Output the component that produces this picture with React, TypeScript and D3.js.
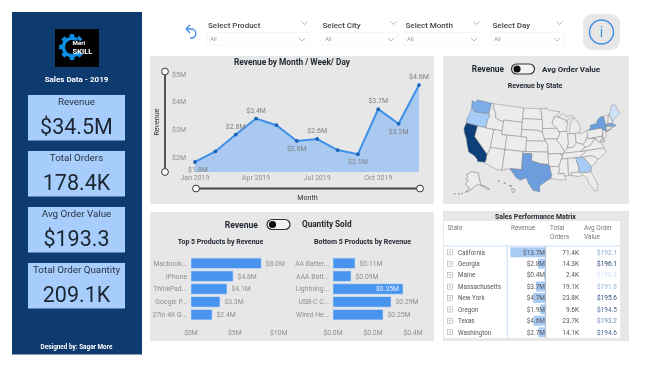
import React from "react";
import * as d3 from "d3";

const FONT = "Roboto, 'Noto Sans', sans-serif";
const BLUE = "#3f8fe8";
const DARK = "#222a33";
const GREY = "#8f8f8f";

const kpiTitles = ["Revenue", "Total Orders", "Avg Order Value", "Total Order Quantity"];
const kpiValues = ["$34.5M", "178.4K", "$193.3", "209.1K"];

const slicerTitles = ["Select Product", "Select City", "Select Month", "Select Day"];

const months = ["Jan", "Feb", "Mar", "Apr", "May", "Jun", "Jul", "Aug", "Sep", "Oct", "Nov", "Dec"];
const monthRevenue = [1.82, 2.2, 2.81, 3.39, 3.15, 2.58, 2.65, 2.25, 2.1, 3.73, 3.2, 4.6];
const monthLabels = ["$1.8M", "", "$2.8M", "$3.4M", "", "$2.6M", "$2.6M", "", "$2.1M", "$3.7M", "$3.2M", "$4.6M"];
const labelBelow = [true, false, false, false, false, true, false, false, true, false, true, false];
const revenueTicks = [2, 3, 4, 5];
const monthTicks = ["Jan", "Apr", "Jul", "Oct"];

const topProducts = ["Macbook...", "iPhone", "ThinkPad...", "Google P...", "27in 4K G..."];
const topRevenue = [8.0, 4.8, 4.1, 3.3, 2.4];
const bottomProducts = ["AA Batter...", "AAA Batt...", "Lightning...", "USB-C C...", "Wired He..."];
const bottomRevenue = [0.11, 0.09, 0.35, 0.29, 0.25];

const matrixStates = ["California", "Georgia", "Maine", "Massachusetts", "New York", "Oregon", "Texas", "Washington"];
const matrixRevenue = [13.7, 2.8, 0.4, 3.7, 4.7, 1.9, 4.6, 2.7];
const matrixOrders = [71.4, 14.3, 2.4, 19.1, 23.8, 9.6, 23.7, 14.1];
const matrixAvg = [192.1, 196.1, 190.3, 191.8, 195.6, 194.5, 193.2, 194.6];
const mapShade = [1, 0.3, 0.12, 0.55, 0.6, 0.3, 0.6, 0.5];

const stateCodes = ["CA", "GA", "ME", "MA", "NY", "OR", "TX", "WA"];

type Ring = [number, number][];
const usStates: Record<string, Ring[]> = {
  WA: [[[-124.7,48.4],[-123.2,48.2],[-122.8,49],[-117,49],[-117,46],[-119,45.9],[-121.2,45.65],[-122.3,45.55],[-123.4,46.2],[-124,46.3]]],
  OR: [[[-124,46.3],[-123.4,46.2],[-122.3,45.55],[-121.2,45.65],[-119,45.9],[-117,46],[-116.5,45.5],[-117,44.3],[-117,42],[-120,42],[-124.2,42],[-124.5,43],[-124.1,44.5]]],
  CA: [[[-124.2,42],[-120,42],[-120,39],[-114.6,35],[-114.5,33.5],[-114.7,32.7],[-117.1,32.5],[-117.3,33],[-118.4,33.8],[-119.2,34.1],[-120.6,34.5],[-121.9,36.6],[-122.5,37.8],[-123.8,39.3],[-124.4,40.4]]],
  NV: [[[-120,42],[-114,42],[-114,36.2],[-114.6,35],[-120,39]]],
  ID: [[[-117,49],[-116,49],[-116,48],[-114.5,46.6],[-114.4,45.5],[-113.5,45],[-111.05,44.5],[-111.05,42],[-117,42],[-117,44.3],[-116.5,45.5],[-117,46]]],
  MT: [[[-116,49],[-104.05,49],[-104.05,45],[-111.05,45],[-111.05,44.5],[-113.5,45],[-114.4,45.5],[-114.5,46.6],[-116,48]]],
  WY: [[[-111.05,45],[-104.05,45],[-104.05,41],[-111.05,41]]],
  UT: [[[-114,42],[-111.05,42],[-111.05,41],[-109.05,41],[-109.05,37],[-114,37]]],
  AZ: [[[-114,37],[-109.05,37],[-109.05,31.3],[-111,31.3],[-114.8,32.5],[-114.7,32.7],[-114.5,33.5],[-114.6,35],[-114,36.2]]],
  CO: [[[-109.05,41],[-102.05,41],[-102.05,37],[-109.05,37]]],
  NM: [[[-109.05,37],[-103,37],[-103,32],[-106.6,32],[-106.5,31.8],[-108.2,31.8],[-108.2,31.3],[-109.05,31.3]]],
  ND: [[[-104.05,49],[-97.2,49],[-96.6,46],[-104.05,46]]],
  SD: [[[-104.05,46],[-96.6,46],[-96.45,43.5],[-96.5,42.5],[-98.5,43],[-104.05,43]]],
  NE: [[[-104.05,43],[-98.5,43],[-96.5,42.5],[-95.75,40.6],[-95.3,40],[-102.05,40],[-102.05,41],[-104.05,41]]],
  KS: [[[-102.05,40],[-95.3,40],[-94.6,39.1],[-94.6,37],[-102.05,37]]],
  OK: [[[-103,37],[-94.6,37],[-94.6,36.5],[-94.45,33.6],[-97,33.8],[-100,34.55],[-100,36.5],[-103,36.5]]],
  TX: [[[-103,36.5],[-100,36.5],[-100,34.55],[-97,33.8],[-94.45,33.6],[-94.05,33],[-93.8,31.5],[-93.5,31],[-93.85,29.7],[-95,29.2],[-97.2,27.7],[-97.2,26],[-99.2,26.4],[-100.5,28.2],[-101.4,29.8],[-103.1,29],[-104.5,29.7],[-106.5,31.8],[-106.6,32],[-103,32]]],
  MN: [[[-97.2,49],[-95.15,49],[-95.15,49.4],[-94.6,48.7],[-92,48.3],[-89.6,48],[-92,46.7],[-92.3,46.1],[-92.8,45.5],[-92.8,44.7],[-91.2,43.5],[-96.45,43.5],[-96.6,46]]],
  IA: [[[-96.45,43.5],[-91.2,43.5],[-90.2,42],[-91.1,40.7],[-91.7,40.6],[-95.75,40.6],[-96.5,42.5]]],
  MO: [[[-95.75,40.6],[-91.7,40.6],[-91.5,40.2],[-90.2,38.8],[-89.2,37],[-89.5,36.5],[-89.7,36],[-90.4,36],[-90.2,36.5],[-94.6,36.5],[-94.6,39.1],[-95.3,40]]],
  AR: [[[-94.6,36.5],[-90.2,36.5],[-90.4,36],[-89.7,36],[-91.2,33],[-94.05,33],[-94.45,33.6]]],
  LA: [[[-94.05,33],[-91.2,33],[-91,32],[-91.6,31],[-89.7,31],[-89.6,30.2],[-89.2,29.2],[-91,29.2],[-93.85,29.7],[-93.5,31],[-93.8,31.5]]],
  WI: [[[-92,46.7],[-90.5,46.6],[-88,45.8],[-87.6,45.1],[-87,45.2],[-87.8,43],[-87.8,42.5],[-90.65,42.5],[-91.2,43.5],[-92.8,44.7],[-92.8,45.5],[-92.3,46.1]]],
  IL: [[[-90.65,42.5],[-87.8,42.5],[-87.5,41.7],[-87.5,39.3],[-88,37.8],[-89.2,37],[-90.2,38.8],[-91.5,40.2],[-91.1,40.7],[-90.2,42]]],
  IN: [[[-87.5,41.7],[-86.8,41.76],[-84.8,41.7],[-84.8,39.1],[-86,38],[-88,37.8],[-87.5,39.3]]],
  MI: [[[-86.8,41.76],[-84.8,41.7],[-83.4,41.7],[-82.5,43],[-82.9,44],[-83.4,45],[-84.7,45.8],[-86,44.8],[-86.5,43.5]],[[-90.5,46.6],[-88.5,47.4],[-87.5,46.5],[-85,46.7],[-84.2,46],[-85.5,46],[-87,45.7],[-87.6,45.1],[-88,45.8]]],
  OH: [[[-84.8,41.7],[-83.4,41.7],[-82.5,41.4],[-80.52,42],[-80.52,40.6],[-81.7,39],[-82.6,38.4],[-84.8,39.1]]],
  KY: [[[-89.5,36.5],[-89.2,37],[-88,37.8],[-86,38],[-84.8,39.1],[-82.6,38.4],[-82,37.5],[-83.7,36.6]]],
  TN: [[[-89.5,36.5],[-83.7,36.6],[-81.7,36.6],[-84.3,35],[-90.3,35],[-89.7,36]]],
  MS: [[[-90.3,35],[-88.2,35],[-88.4,30.3],[-89.6,30.2],[-89.7,31],[-91.6,31],[-91,32],[-91.2,33]]],
  AL: [[[-88.2,35],[-85.6,35],[-85,32.3],[-85,31],[-87.6,31],[-87.5,30.3],[-88.4,30.3]]],
  GA: [[[-85.6,35],[-83.1,35],[-81,32.1],[-81.4,30.7],[-82.2,30.6],[-84.9,30.7],[-85,31],[-85,32.3]]],
  FL: [[[-87.6,31],[-85,31],[-84.9,30.7],[-82.2,30.6],[-81.4,30.7],[-80.5,28.3],[-80,26.8],[-80.4,25.2],[-81.2,25.2],[-82.7,27.8],[-82.8,29],[-84,30.1],[-85.3,29.7],[-87.5,30.3]]],
  SC: [[[-83.1,35],[-81,35.1],[-79.7,34.8],[-78.55,33.85],[-79.9,32.6],[-81,32.1]]],
  NC: [[[-84.3,35],[-81.7,36.6],[-75.9,36.55],[-75.5,35.3],[-77.9,33.9],[-78.55,33.85],[-79.7,34.8],[-81,35.1],[-83.1,35]]],
  VA: [[[-83.7,36.6],[-75.9,36.55],[-76.3,37.9],[-77.2,38.4],[-77.8,39.2],[-78.4,39.4],[-80,38],[-82,37.5]]],
  WV: [[[-82,37.5],[-80,38],[-78.4,39.4],[-77.8,39.2],[-78.4,39.7],[-79.5,39.7],[-80.52,39.7],[-80.52,40.6],[-81.7,39],[-82.6,38.4]]],
  PA: [[[-80.52,42],[-79.76,42.25],[-79.76,42],[-75.35,42],[-74.7,41.35],[-75.1,40.9],[-75.4,39.8],[-80.52,39.7]]],
  NY: [[[-79.76,42],[-79,42.7],[-79,43.3],[-76.5,43.5],[-76.2,44.2],[-74.7,45],[-73.35,45],[-73.4,43.6],[-73.3,42.75],[-73.5,42.05],[-73.65,41],[-74,41],[-74.7,41.35],[-75.35,42]],[[-74,40.6],[-72,41.1],[-73.7,40.9]]],
  NJ: [[[-74.7,41.35],[-74,41],[-74.2,40.5],[-74,39.8],[-74.9,38.95],[-75.5,39.5],[-75.1,40.2],[-75.1,40.9]]],
  DE: [[[-75.4,39.8],[-75.75,39.7],[-75.7,38.45],[-75.05,38.45],[-75.5,39.4]]],
  MD: [[[-79.5,39.7],[-75.75,39.7],[-75.7,38.45],[-75.05,38.45],[-75.3,38],[-76,38],[-76.4,39],[-76.3,38.2],[-77.2,38.4],[-77.8,39.2],[-78.4,39.7]]],
  CT: [[[-73.5,42.05],[-71.8,42],[-71.85,41.3],[-73.65,41]]],
  RI: [[[-71.8,42],[-71.4,42],[-71.2,41.5],[-71.85,41.3]]],
  MA: [[[-73.5,42.05],[-73.3,42.75],[-71.3,42.7],[-70.8,42.8],[-70.7,42.2],[-70,42],[-70,41.7],[-71.2,41.5],[-71.4,42],[-71.8,42]]],
  VT: [[[-73.35,45],[-71.5,45],[-72.4,43.2],[-72.5,42.75],[-73.3,42.75],[-73.4,43.6]]],
  NH: [[[-71.5,45],[-71.1,45.3],[-70.7,43.1],[-70.8,42.8],[-71.3,42.7],[-72.5,42.75],[-72.4,43.2]]],
  ME: [[[-71.1,45.3],[-70.3,45.9],[-70,46.7],[-69.2,47.45],[-68.3,47.35],[-67.8,47.05],[-67.8,45.7],[-67,44.8],[-69,44],[-70.7,43.1]]],
  AK: [[[-156,71],[-141,69.6],[-141,60.2],[-135,58.5],[-130.5,55.3],[-133,55.5],[-136,57.5],[-140,59.7],[-146,60.8],[-151,59.5],[-154,58],[-158,56.5],[-163.5,54.6],[-158,58.5],[-162,59.5],[-165,61.5],[-161,64],[-166,64.5],[-163,66.5],[-166,68.5]],[[-168,53.4],[-166.5,53.9],[-167,53.4]],[[-172,52.6],[-170,52.9],[-171,52.4]],[[-176.5,51.9],[-175,52.1],[-175.5,51.7]]],
  HI: [[[-156,20.2],[-155,19.8],[-155.6,19],[-156,19.6]],[[-156.7,21],[-156,20.8],[-156.4,20.6]],[[-158.2,21.5],[-157.7,21.4],[-158,21.7]],[[-159.8,22.1],[-159.3,22.1],[-159.5,21.9]]],
};

const lower48 = d3.geoAlbers().scale(211).translate([538, 145]);
const stretchX = d3.scaleLinear().domain([459, 611]).range([461, 617]);
const stretchY = d3.scaleLinear().domain([97, 192]).range([99, 192]);
const alaska = d3.geoConicEqualArea().rotate([154, 0]).center([-2, 58.5]).parallels([55, 65]).scale(75).translate([471, 188]);
const hawaii = d3.geoConicEqualArea().rotate([157, 0]).center([-3, 19.9]).parallels([8, 18]).scale(225).translate([497, 189.5]);
const ringLine = d3.line().curve(d3.curveLinearClosed);
const statePath = (code: string, rings: Ring[]) => {
  const proj = (p: [number, number]) => {
    if (code === "AK") return alaska(p) as [number, number];
    if (code === "HI") return hawaii(p) as [number, number];
    const q = lower48(p) as [number, number];
    return [stretchX(q[0]), stretchY(q[1])] as [number, number];
  };
  return rings.map((r) => ringLine(r.map(proj))).join("");
};

const mapColor = d3
  .scaleLinear<string>()
  .domain([0.12, 0.3, 0.5, 0.6, 1])
  .range(["#cfe3fb", "#a6cbf7", "#7eace8", "#6c9edd", "#0f3f78"]);

function Chevron({ x, y, w = 6, color = "#9a9a9a" }: { x: number; y: number; w?: number; color?: string }) {
  return <path d={`M${x - w / 2},${y - w / 4}L${x},${y + w / 4}L${x + w / 2},${y - w / 4}`} fill="none" stroke={color} strokeWidth={0.7} />;
}

function Toggle({ cx, cy }: { cx: number; cy: number }) {
  return (
    <g>
      <rect x={cx - 11.5} y={cy - 5} width={23} height={10} rx={5} fill="#f3f3f3" stroke="#333" strokeWidth={1.2} />
      <circle cx={cx - 6} cy={cy} r={3.6} fill="#111" />
    </g>
  );
}

function Logo() {
  const ro = 10.5, ri = 7;
  const ring = d3.arc()({ innerRadius: ri, outerRadius: ro, startAngle: (125 * Math.PI) / 180, endAngle: (395 * Math.PI) / 180 } as any) as string;
  return (
    <g>
      <rect x={55} y={29} width={44} height={38} fill="#000" />
      <g transform="translate(72,47)" fill="#0e8fe6">
        <path d={ring} />
        {[0, 42, -45, -90, -135, 180, 135].map((a) => (
          <rect key={a} x={-2.3} y={-ro - 2.4} width={4.6} height={3.4} transform={`rotate(${a})`} />
        ))}
      </g>
      <text x={72.5} y={45} fontSize={6.2} fontWeight={700} fill="#fff" fontFamily={FONT}>Meri</text>
      <text x={72.5} y={53.5} fontSize={7.6} fontWeight={700} fill="#fff" fontFamily={FONT}>SKILL</text>
    </g>
  );
}

function LineChart() {
  const x = d3.scalePoint<string>().domain(months).range([195, 419]);
  const y = d3.scaleLinear().domain([5, 2]).range([74, 157]);
  const base = 172;
  const line = d3.line<number>().x((_, i) => x(months[i])!).y((d) => y(d));
  const area = d3.area<number>().x((_, i) => x(months[i])!).y0(base).y1((d) => y(d));
  return (
    <g fontFamily={FONT}>
      <rect x={150} y={56} width={284} height={148} fill="#e7e7e7" />
      <text x={292} y={64.5} textAnchor="middle" fontSize={8.3} fontWeight={700} fill={DARK}>Revenue by Month / Week/ Day</text>
      {revenueTicks.map((t) => (
        <text key={t} x={186} y={y(t) + 2.5} textAnchor="end" fontSize={7} fill={GREY}>{`$${t}M`}</text>
      ))}
      {monthTicks.map((m) => (
        <text key={m} x={x(m)!} y={180} textAnchor="middle" fontSize={7} fill={GREY}>{`${m} 2019`}</text>
      ))}
      <path d={area(monthRevenue)!} fill="#a9c9f1" />
      <path d={line(monthRevenue)!} fill="none" stroke={BLUE} strokeWidth={2} />
      {monthRevenue.map((v, i) => (
        <circle key={i} cx={x(months[i])!} cy={y(v)} r={1.9} fill="#1a63b8" />
      ))}
      {monthLabels.map((l, i) =>
        l ? (
          <text key={i} x={x(months[i])! + (i === 0 ? 3 : 0)} y={y(monthRevenue[i]) + (labelBelow[i] ? 10 : -6)} textAnchor="middle" fontSize={7} fill="#7f7f7f">{l}</text>
        ) : null
      )}
      <line x1={165} x2={165} y1={71} y2={172} stroke="#444" strokeWidth={1.8} />
      <circle cx={165} cy={71.5} r={3.4} fill="#fff" stroke="#333" strokeWidth={1} />
      <circle cx={165} cy={172} r={3.4} fill="#fff" stroke="#333" strokeWidth={1} />
      <line x1={196} x2={420} y1={188.5} y2={188.5} stroke="#444" strokeWidth={1.8} />
      <circle cx={196} cy={188.5} r={3.4} fill="#fff" stroke="#333" strokeWidth={1} />
      <circle cx={420} cy={188.5} r={3.4} fill="#fff" stroke="#333" strokeWidth={1} />
      <text transform="translate(158.5,122) rotate(-90)" textAnchor="middle" fontSize={7.2} fill="#333">Revenue</text>
      <text x={307.5} y={200} textAnchor="middle" fontSize={7.2} fill="#333">Month</text>
    </g>
  );
}

function MapPanel() {
  const shadeByCode = new Map(stateCodes.map((c, i) => [c, mapShade[i]]));
  return (
    <g fontFamily={FONT}>
      <rect x={443} y={56} width={186} height={148} fill="#e7e7e7" />
      <text x={504} y={72} textAnchor="end" fontSize={8.3} fontWeight={700} fill={DARK}>Revenue</text>
      <Toggle cx={523} cy={69} />
      <text x={542} y={72} fontSize={8} fontWeight={700} fill={DARK}>Avg Order Value</text>
      <text x={535} y={87.5} textAnchor="middle" fontSize={7} fontWeight={700} fill={DARK}>Revenue by State</text>
      {Object.entries(usStates).map(([code, rings]) => (
        <path
          key={code}
          d={statePath(code, rings)}
          fill={shadeByCode.has(code) ? mapColor(shadeByCode.get(code)!) : "#ececec"}
          stroke={code === "AK" || code === "HI" ? "#555" : "#7d7d7d"}
          strokeWidth={0.45}
        />
      ))}
    </g>
  );
}

function BarPanel({ title, cats, vals, x0, x1, dMax, ticks, fmt, tickFmt, labelRight, tcx }: any) {
  const x = d3.scaleLinear().domain([0, dMax]).range([x0, x1]);
  const y = d3.scaleBand<string>().domain(cats).range([255.5, 322.5]).padding(0.2);
  return (
    <g>
      <text x={tcx} y={244} textAnchor="middle" fontSize={7} fontWeight={700} fill={DARK}>{title}</text>
      {cats.map((c: string, i: number) => {
        const inside = x(vals[i]) > x1 - 15;
        return (
          <g key={c}>
            <text x={labelRight} y={y(c)! + y.bandwidth() / 2 + 2.4} textAnchor="end" fontSize={6.8} fill={GREY}>{c}</text>
            <rect x={x0} y={y(c)!} width={x(vals[i]) - x0} height={y.bandwidth()} fill="#4a94ef" stroke="#c4dcf8" strokeWidth={0.6} />
            <text x={inside ? x(vals[i]) - 4 : x(vals[i]) + 4.5} y={y(c)! + y.bandwidth() / 2 + 2.4} textAnchor={inside ? "end" : "start"} fontSize={6.8} fill={inside ? "#e6f0fd" : GREY}>{fmt(vals[i])}</text>
          </g>
        );
      })}
      {ticks.map((t: number) => (
        <text key={t} x={x(t)} y={334.5} textAnchor="middle" fontSize={6.8} fill={GREY}>{tickFmt(t)}</text>
      ))}
    </g>
  );
}

function Matrix() {
  const rowY = d3.scalePoint<string>().domain(matrixStates).range([252.3, 332.2]);
  const barW = d3.scaleLinear().domain([0, 13.7]).range([0, 35]);
  const avgColor = d3.scaleLinear<string>().domain([190.3, 192, 196.1]).range(["#d5e1f5", "#8ea9d4", "#1d3f70"]);
  return (
    <g fontFamily={FONT}>
      <rect x={443} y={211} width={186} height={130} fill="#e7e7e7" />
      <text x={535.5} y={218.5} textAnchor="middle" fontSize={6.9} fontWeight={700} fill={DARK}>Sales Performance Matrix</text>
      <rect x={444} y={221} width={176} height={117} fill="#fff" />
      <line x1={444} x2={620} y1={246} y2={246} stroke="#c3daf5" strokeWidth={0.8} />
      <line x1={507.3} x2={507.3} y1={246} y2={338} stroke="#bcd5f2" strokeWidth={0.8} />
      <line x1={545.6} x2={545.6} y1={246} y2={338} stroke="#7b8794" strokeWidth={0.6} />
      <g fontSize={6.4} fill="#777">
        <text x={447.5} y={230}>State</text>
        <text x={511} y={230}>Revenue</text>
        <text x={550} y={230}>Total</text>
        <text x={550} y={238.5}>Orders</text>
        <text x={584} y={230}>Avg Order</text>
        <text x={584} y={238.5}>Value</text>
      </g>
      {matrixStates.map((s, i) => {
        const yc = rowY(s)!;
        return (
          <g key={s} fontSize={6.5} fill="#555">
            <rect x={447.5} y={yc - 2.4} width={5} height={5} fill="#fff" stroke="#999" strokeWidth={0.5} />
            <path d={`M448.8,${yc + 0.1}h2.4M450,${yc - 1.1}v2.4`} stroke="#888" strokeWidth={0.4} />
            <text x={458} y={yc + 2.3} fontSize={6.3}>{s}</text>
            <rect x={545.3 - barW(matrixRevenue[i])} y={yc - 5} width={barW(matrixRevenue[i])} height={10} fill="#a8cbf6" />
            <text x={545} y={yc + 2.3} textAnchor="end">{`$${matrixRevenue[i].toFixed(1)}M`}</text>
            <text x={579} y={yc + 2.3} textAnchor="end">{`${matrixOrders[i].toFixed(1)}K`}</text>
            <text x={617} y={yc + 2.3} textAnchor="end" fill={avgColor(matrixAvg[i])}>{`$${matrixAvg[i].toFixed(1)}`}</text>
          </g>
        );
      })}
    </g>
  );
}

const kpiY = d3.scalePoint<string>().domain(kpiTitles).range([95, 263]);
const slicerX = [207, 322, 404, 491];
const slicerW = [102, 76, 76, 73];
const slicerTitleX = [208, 322.5, 405.5, 492.5];
const slicerChevX = [304.5, 393.5, 476.5, 559.5];

export default function App() {
  return (
    <svg width={650} height={366} viewBox="0 0 650 366" style={{ position: "absolute", left: 0, top: 0, background: "#fff" }} fontFamily={FONT}>
      <defs>
        <filter id="soft" x="0" y="0" width="100%" height="100%">
          <feGaussianBlur stdDeviation={0.28} />
        </filter>
      </defs>
      <g filter="url(#soft)">
        <rect x={0} y={0} width={650} height={366} fill="#fff" />
        <rect x={12} y={12} width={130} height={342.5} fill="#0f3b70" />
        <Logo />
        <text x={76.5} y={82} textAnchor="middle" fontSize={8} fontWeight={700} fill="#fff">Sales Data - 2019</text>
        {kpiTitles.map((t, i) => {
          const y0 = kpiY(t)!;
          return (
            <g key={t}>
              <rect x={28} y={y0} width={97} height={45.5} fill="#a6cdfb" />
              <text x={76.5} y={y0 + 9.5} textAnchor="middle" fontSize={9.8} fill="#2a3340">{t}</text>
              <text x={76.5} y={y0 + 38.8} textAnchor="middle" fontSize={21.5} fill="#1d2530">{kpiValues[i]}</text>
            </g>
          );
        })}
        <text x={76.5} y={348.5} textAnchor="middle" fontSize={6.4} fontWeight={700} fill="#fff">Designed by: Sagar More</text>

        <path d="M186,29 L190,25 M186,29 L190,33 M186,29 H193 A5,5 0 0 1 193,38 H190" fill="none" stroke={BLUE} strokeWidth={1.3} />
        {slicerTitles.map((t, i) => (
          <g key={t}>
            <text x={slicerTitleX[i]} y={27.5} fontSize={8} fontWeight={500} fill="#444">{t}</text>
            <Chevron x={slicerChevX[i]} y={23} />
            <rect x={slicerX[i]} y={32.5} width={slicerW[i]} height={12.5} fill="#fff" stroke="#f0f0f0" strokeWidth={0.6} />
            <text x={slicerX[i] + 3} y={41} fontSize={6} fill="#9a9a9a">All</text>
            <Chevron x={slicerChevX[i] - 2.5} y={39.5} />
          </g>
        ))}
        <rect x={583} y={14} width={37} height={36} rx={9} fill="#e7e7e7" />
        <circle cx={601.5} cy={32} r={12} fill="none" stroke={BLUE} strokeWidth={1.4} />
        <text x={601.5} y={37} textAnchor="middle" fontSize={14} fill={BLUE}>i</text>

        <LineChart />
        <MapPanel />

        <g fontFamily={FONT}>
          <rect x={150} y={212} width={284} height={129} fill="#e7e7e7" />
          <text x={258} y={227.5} textAnchor="end" fontSize={8.6} fontWeight={700} fill={DARK}>Revenue</text>
          <Toggle cx={278.5} cy={224.5} />
          <text x={302} y={227} fontSize={8.2} fontWeight={700} fill={DARK}>Quantity Sold</text>
          <BarPanel title="Top 5 Products by Revenue" cats={topProducts} vals={topRevenue} x0={191} x1={278.7} dMax={10} ticks={[0, 5, 10]} fmt={(v: number) => `$${v.toFixed(1)}M`} tickFmt={(t: number) => `$${t}M`} labelRight={187} tcx={220.5} />
          <BarPanel title="Bottom 5 Products by Revenue" cats={bottomProducts} vals={bottomRevenue} x0={333} x1={413} dMax={0.4} ticks={[0, 0.2, 0.4]} fmt={(v: number) => `$${v.toFixed(2)}M`} tickFmt={(t: number) => `$${t.toFixed(1)}M`} labelRight={329} tcx={362.5} />
        </g>

        <Matrix />
      </g>
    </svg>
  );
}
